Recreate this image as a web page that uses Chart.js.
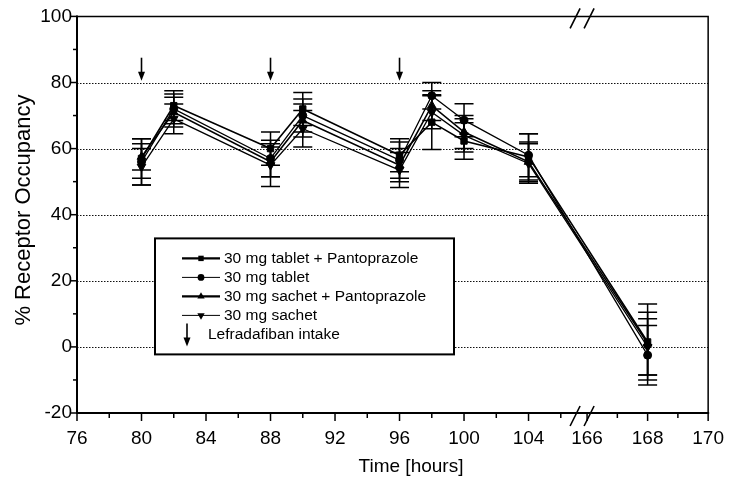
<!DOCTYPE html>
<html><head><meta charset="utf-8">
<script src="https://cdn.jsdelivr.net/npm/chart.js@4.4.1/dist/chart.umd.min.js"></script>
<style>html,body{margin:0;padding:0;background:#fff}#wrap{width:738px;height:479px}</style>
</head><body><div id="wrap"><canvas id="c" width="738" height="479"></canvas></div>
<script>
// ---------- data ----------
const timesH = [80, 82, 88, 90, 96, 98, 100, 104, 168];
const tabletPanto     = [57, 73, 60, 72, 58, 68, 62.3, 57.5, 1.5];
const tabletPantoSD   = [6, 4.5, 5, 5, 5, 8.3, 5.5, 7, 11.5];
const tablet          = [56, 72, 57, 70, 56.5, 76, 68.6, 58, -2.5];
const tabletSD        = [7, 4.5, 5.5, 5, 5.5, 4, 5, 6.5, 9];
const sachetPanto     = [57.5, 71, 56, 68.5, 55, 73, 65, 56, 1];
const sachetPantoSD   = [4, 4.5, 4.5, 5, 5, 4.5, 5, 6, 9.5];
const sachet          = [54.5, 69, 55, 66, 53.5, 71, 64, 55.5, 0];
const sachetSD        = [5.5, 4.5, 6.5, 5.5, 5.3, 5, 5, 6, 8.5];
const seriesLabels = ['30 mg tablet + Pantoprazole', '30 mg tablet', '30 mg sachet + Pantoprazole', '30 mg sachet'];
const intakeTimes = [80, 88, 96];
const intakeLabel = 'Lefradafiban intake';
const xTickHours  = [76, 80, 84, 88, 92, 96, 100, 104, 166, 168, 170];
const xMinorHours = [78, 82, 86, 90, 94, 98, 102, 106, 167, 169];
const yTicks = [-20, 0, 20, 40, 60, 80, 100];
const yMinor = [-10, 10, 30, 50, 70, 90];
const yGrid  = [0, 20, 40, 60, 80];
const xTitle = 'Time [hours]';
const yTitle = '% Receptor Occupancy';

// ---------- broken x axis mapping ----------
const SEG1_END = 106, SEG2_START_H = 166, SEG2_START_AX = 107.63, SEG2_SCALE = 1.877;
function toAxis(h) { return h <= SEG1_END ? h : SEG2_START_AX + (h - SEG2_START_H) * SEG2_SCALE; }

const FONT = "'Liberation Sans', Arial, Helvetica, sans-serif";
const styles = [
  { pointStyle: 'rect',     radius: 4.5, rotation: 0,   lw: 1.6, legendLw: 2.2 },
  { pointStyle: 'circle',   radius: 4,   rotation: 0,   lw: 1.3, legendLw: 1.0 },
  { pointStyle: 'triangle', radius: 5,   rotation: 0,   lw: 1.6, legendLw: 2.2 },
  { pointStyle: 'triangle', radius: 5,   rotation: 180, lw: 1.3, legendLw: 1.0 },
];
const values = [tabletPanto, tablet, sachetPanto, sachet];
const sds = [tabletPantoSD, tabletSD, sachetPantoSD, sachetSD];

const datasets = values.map((vals, k) => ({
  label: seriesLabels[k],
  data: timesH.map((h, i) => ({ x: toAxis(h), y: vals[i] })),
  sd: sds[k],
  borderColor: '#000',
  borderWidth: styles[k].lw,
  backgroundColor: '#000',
  pointStyle: styles[k].pointStyle,
  pointRadius: styles[k].radius,
  pointRotation: styles[k].rotation,
  pointBackgroundColor: '#000',
  pointBorderColor: '#000',
  pointBorderWidth: 1,
  fill: false,
  tension: 0,
}));

function arrow(ctx, x, yTop, yTip) {
  ctx.beginPath();
  ctx.moveTo(x, yTop); ctx.lineTo(x, yTip - 7);
  ctx.lineWidth = 1.6; ctx.stroke();
  ctx.beginPath();
  ctx.moveTo(x - 3.5, yTip - 9); ctx.lineTo(x + 3.5, yTip - 9); ctx.lineTo(x, yTip);
  ctx.closePath(); ctx.fill();
}

const decor = {
  id: 'decor',
  beforeDatasetsDraw(chart) {
    const { ctx, chartArea: a, scales: { x, y } } = chart;
    ctx.save();
    // dotted grid
    ctx.strokeStyle = '#111'; ctx.lineWidth = 1; ctx.setLineDash([1.5, 1.5]);
    yGrid.forEach(v => {
      const py = Math.round(y.getPixelForValue(v)) + 0.5;
      ctx.beginPath(); ctx.moveTo(a.left, py); ctx.lineTo(a.right, py); ctx.stroke();
    });
    ctx.setLineDash([]);
    // error bars
    ctx.strokeStyle = '#000'; ctx.lineWidth = 1.5;
    chart.data.datasets.forEach((ds, di) => {
      const meta = chart.getDatasetMeta(di);
      meta.data.forEach((pt, i) => {
        const v = ds.data[i].y, e = ds.sd[i];
        const yT = y.getPixelForValue(v + e), yB = y.getPixelForValue(v - e);
        ctx.beginPath();
        ctx.moveTo(pt.x, yT); ctx.lineTo(pt.x, yB);
        ctx.moveTo(pt.x - 9.5, yT); ctx.lineTo(pt.x + 9.5, yT);
        ctx.moveTo(pt.x - 9.5, yB); ctx.lineTo(pt.x + 9.5, yB);
        ctx.stroke();
      });
    });
    ctx.restore();
  },
  afterDatasetsDraw(chart) {
    const { ctx, chartArea: a, scales: { x, y } } = chart;
    ctx.save();
    ctx.strokeStyle = '#000'; ctx.fillStyle = '#000';
    // frame
    ctx.lineWidth = 1.5;
    ctx.beginPath(); ctx.moveTo(a.left, a.top); ctx.lineTo(a.right, a.top); ctx.lineTo(a.right, a.bottom); ctx.stroke();
    ctx.lineWidth = 2;
    ctx.beginPath(); ctx.moveTo(a.left, a.top - 1); ctx.lineTo(a.left, a.bottom); ctx.lineTo(a.right + 1, a.bottom); ctx.stroke();
    // ticks
    ctx.lineWidth = 1.5;
    xTickHours.forEach(h => { const px = x.getPixelForValue(toAxis(h)); ctx.beginPath(); ctx.moveTo(px, a.bottom); ctx.lineTo(px, a.bottom + 8); ctx.stroke(); });
    xMinorHours.forEach(h => { const px = x.getPixelForValue(toAxis(h)); ctx.beginPath(); ctx.moveTo(px, a.bottom); ctx.lineTo(px, a.bottom + 5); ctx.stroke(); });
    yTicks.forEach(v => { const py = y.getPixelForValue(v); ctx.beginPath(); ctx.moveTo(a.left - 7, py); ctx.lineTo(a.left, py); ctx.stroke(); });
    yMinor.forEach(v => { const py = y.getPixelForValue(v); ctx.beginPath(); ctx.moveTo(a.left - 4, py); ctx.lineTo(a.left, py); ctx.stroke(); });
    // axis break marks
    const bx = x.getPixelForValue(toAxis(SEG2_START_H)) - 5;
    [a.top + 2, a.bottom + 3].forEach(cy => {
      [-7, 7].forEach(off => {
        ctx.beginPath(); ctx.lineWidth = 1.6;
        ctx.moveTo(bx + off - 5, cy + 10); ctx.lineTo(bx + off + 5, cy - 10); ctx.stroke();
      });
    });
    // intake arrows
    intakeTimes.forEach(h => {
      const px = x.getPixelForValue(toAxis(h));
      arrow(ctx, px, y.getPixelForValue(87.5), y.getPixelForValue(80.5));
    });
    // legend
    const L = { x: a.left + 78, y: a.top + 222, w: 299, h: 116 };
    ctx.fillStyle = '#fff';
    ctx.fillRect(L.x, L.y, L.w, L.h);
    ctx.lineWidth = 2; ctx.strokeStyle = '#000';
    ctx.strokeRect(L.x, L.y, L.w, L.h);
    ctx.fillStyle = '#000';
    ctx.font = '15.5px ' + FONT; ctx.textBaseline = 'middle'; ctx.textAlign = 'left';
    const rowY = k => L.y + 20 + k * 19;
    chart.data.datasets.forEach((ds, k) => {
      const cy = rowY(k), sx = L.x + 27, ex = L.x + 65, mx = (sx + ex) / 2;
      ctx.lineWidth = styles[k].legendLw;
      ctx.beginPath(); ctx.moveTo(sx, cy); ctx.lineTo(ex, cy); ctx.stroke();
      Chart.helpers.drawPoint(ctx, { pointStyle: styles[k].pointStyle, rotation: styles[k].rotation, radius: styles[k].radius * 0.85, borderWidth: 0 }, mx, cy);
      ctx.fillText(ds.label, L.x + 69, cy);
    });
    const ay = rowY(4);
    arrow(ctx, L.x + 32, ay - 11, ay + 12);
    ctx.fillText(intakeLabel, L.x + 53, ay);
    // axis titles
    ctx.font = '19px ' + FONT; ctx.textAlign = 'center'; ctx.textBaseline = 'middle';
    ctx.fillText(xTitle, 411, 467);
    ctx.save();
    ctx.font = '22px ' + FONT;
    ctx.translate(24, 210);
    ctx.rotate(-Math.PI / 2);
    ctx.fillText(yTitle, 0, 0);
    ctx.restore();
    ctx.restore();
  }
};

new Chart(document.getElementById('c'), {
  type: 'line',
  data: { datasets },
  options: {
    responsive: false,
    animation: false,
    devicePixelRatio: 1,
    layout: { padding: { left: 0, right: 25, top: 15, bottom: 0 } },
    plugins: { legend: { display: false }, tooltip: { enabled: false } },
    scales: {
      x: {
        type: 'linear',
        min: toAxis(76), max: toAxis(170),
        afterBuildTicks: s => { s.ticks = xTickHours.map(h => ({ value: toAxis(h) })); },
        afterFit: s => { s.height = 66; },
        grid: { display: false, drawTicks: false },
        border: { display: false },
        ticks: { color: '#000', font: { family: FONT, size: 19 }, padding: 14, maxRotation: 0, autoSkip: false,
                 callback: (v, i) => xTickHours[i] }
      },
      y: {
        min: -20, max: 100,
        afterBuildTicks: s => { s.ticks = yTicks.map(v => ({ value: v })); },
        afterFit: s => { s.width = 77; },
        grid: { display: false, drawTicks: false },
        border: { display: false },
        ticks: { color: '#000', font: { family: FONT, size: 19 }, padding: 5 }
      }
    }
  },
  plugins: [decor]
});
</script>
</body></html>
